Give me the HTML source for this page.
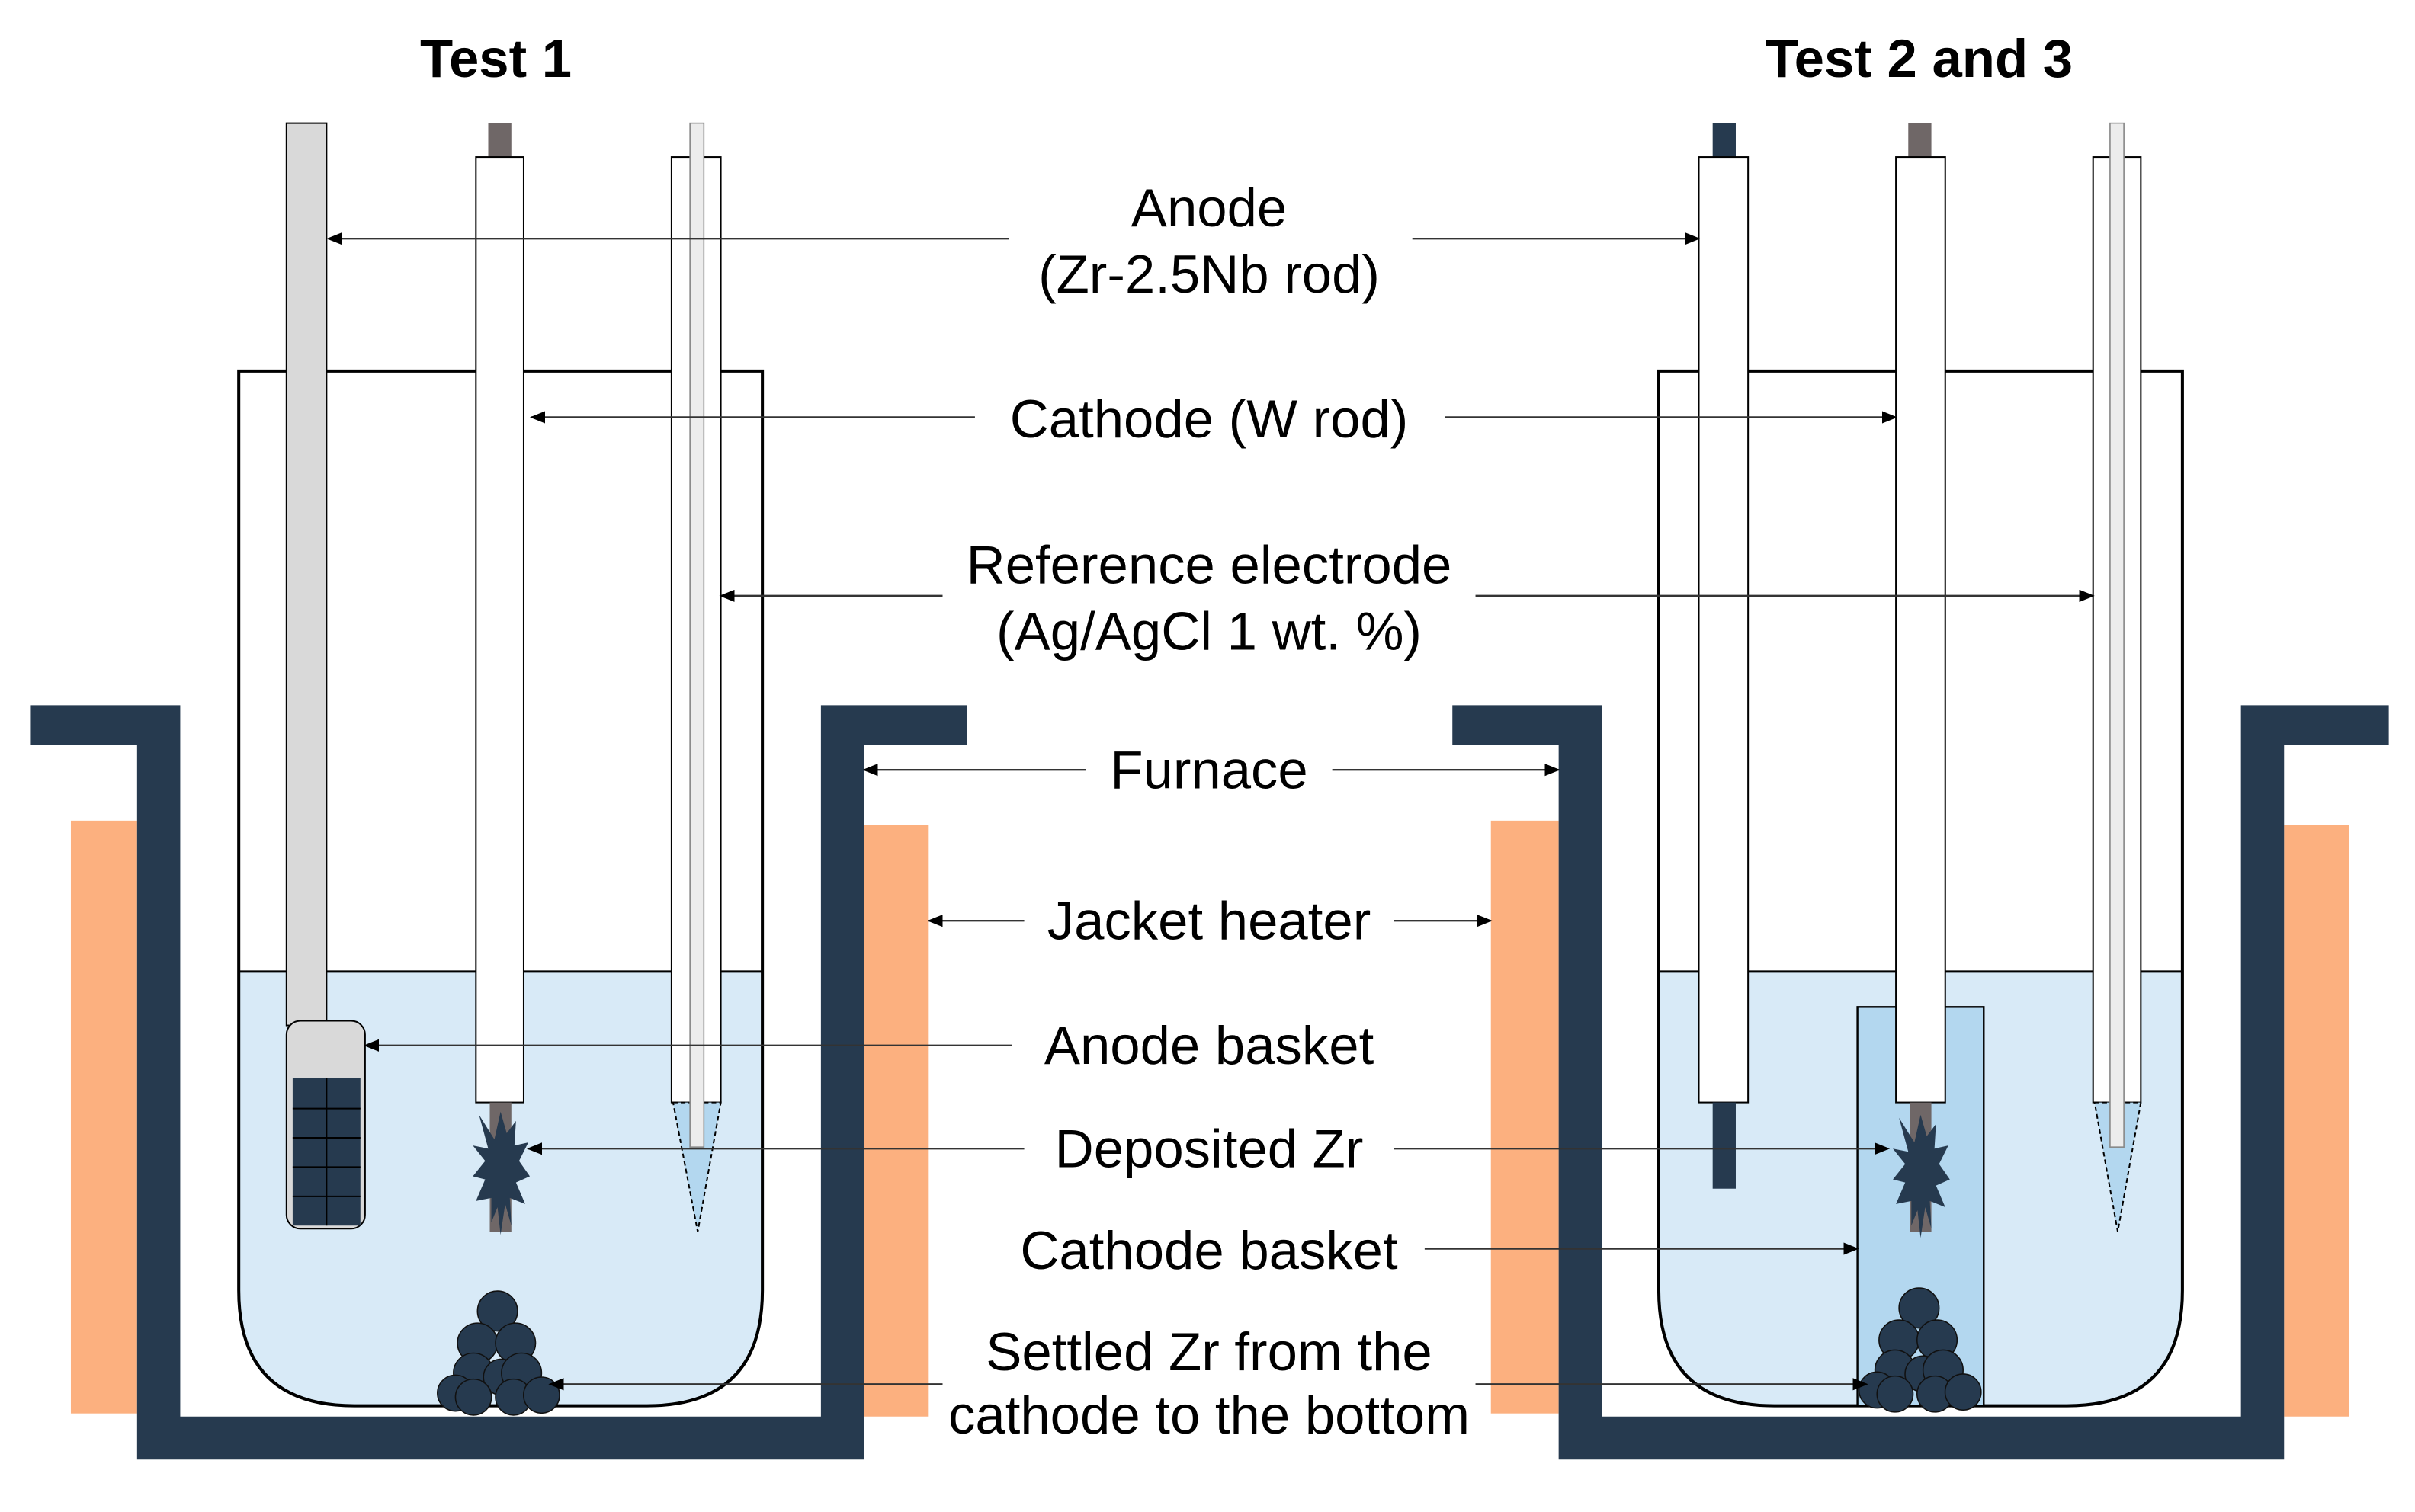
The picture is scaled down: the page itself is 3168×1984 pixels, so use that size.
<!DOCTYPE html>
<html><head><style>html,body{margin:0;padding:0;background:#fff}svg{display:block}</style></head><body>
<svg width="3168" height="1984" viewBox="0 0 1568 982" xmlns="http://www.w3.org/2000/svg" font-family="'Liberation Sans', sans-serif">
<defs>
<marker id="a" markerWidth="10" markerHeight="8" refX="9" refY="4" orient="auto" markerUnits="userSpaceOnUse"><path d="M0,0 L10,4 L0,8 z" fill="#000"/></marker>
<g id="balls" fill="#263a4f" stroke="#111" stroke-width="0.6">
<g transform="scale(1.3)">
<circle cx="0" cy="-45" r="10"/><circle cx="-10" cy="-29" r="10"/><circle cx="9" cy="-29" r="10"/>
<circle cx="-12" cy="-14" r="10"/><circle cx="2" cy="-12" r="9"/><circle cx="12" cy="-14" r="10"/>
<circle cx="-21" cy="-4" r="9"/><circle cx="-12" cy="-2" r="9"/><circle cx="8" cy="-2" r="9"/><circle cx="22" cy="-3" r="9"/>
</g></g>
<polygon id="star" fill="#263a4f" points="0,-36 4,-22 10,-30 9,-14 18,-16 12,-4 19,6 10,10 16,24 6,20 7,38 3,24 0,44 -2,26 -6,36 -6,20 -16,22 -10,8 -18,6 -10,-4 -18,-14 -8,-12 -14,-34 -4,-18"/>
</defs>
<g fill="#fcb07f">
<rect x="46" y="533" width="43" height="385"/><rect x="561" y="536" width="42" height="384"/>
<rect x="968" y="533" width="44" height="385"/><rect x="1483" y="536" width="42" height="384"/>
</g>
<g fill="#263a4f">
<path d="M20,458 H117 V920 H533 V458 H628 V484 H561 V948 H89 V484 H20 Z"/>
<path d="M943,458 H1040 V920 H1455 V458 H1551 V484 H1483 V948 H1012 V484 H943 Z"/>
</g>
<g stroke="#000" stroke-width="2">
<path d="M155,631 H495 V838 Q495,913 420,913 H230 Q155,913 155,838 Z" fill="#d8eaf7" stroke="none"/>
<path d="M155,241 H495 V838 Q495,913 420,913 H230 Q155,913 155,838 Z" fill="none"/>
<line x1="155" y1="631" x2="495" y2="631" stroke-width="1.5"/>
<path d="M1077,631 H1417 V838 Q1417,913 1342,913 H1152 Q1077,913 1077,838 Z" fill="#d8eaf7" stroke="none"/>
<path d="M1077,241 H1417 V838 Q1417,913 1342,913 H1152 Q1077,913 1077,838 Z" fill="none"/>
<line x1="1077" y1="631" x2="1417" y2="631" stroke-width="1.5"/>
</g>
<rect x="1206" y="654" width="82" height="259" fill="#b3d7ef" stroke="#000" stroke-width="1.2"/>
<rect x="186" y="80" width="26" height="586" fill="#d9d9d9" stroke="#000" stroke-width="1"/>
<rect x="186" y="663" width="51" height="135" rx="9" fill="#d9d9d9" stroke="#000" stroke-width="1"/>
<rect x="190" y="700" width="44" height="96" fill="#263a4f"/>
<g stroke="#000" stroke-width="1"><line x1="212" y1="700" x2="212" y2="796"/><line x1="190" y1="720" x2="234" y2="720"/><line x1="190" y1="739" x2="234" y2="739"/><line x1="190" y1="758" x2="234" y2="758"/><line x1="190" y1="777" x2="234" y2="777"/></g>
<rect x="317" y="80" width="15" height="22" fill="#6f6767"/>
<rect x="309" y="102" width="31" height="614" fill="#fff" stroke="#000" stroke-width="1"/>
<rect x="318" y="716" width="14" height="84" fill="#6f6767"/>
<use href="#star" x="325" y="758"/>
<rect x="436" y="102" width="32" height="614" fill="#fff" stroke="#000" stroke-width="1"/>
<polygon points="437,716 468,716 453,800" fill="#b3d7ef" stroke="#000" stroke-width="1" stroke-dasharray="3,2"/>
<rect x="448" y="80" width="9" height="665" fill="#ececec" stroke="#888" stroke-width="0.8"/>
<use href="#balls" x="323" y="910"/>
<rect x="1112" y="80" width="15" height="22" fill="#263a4f"/>
<rect x="1103" y="102" width="32" height="614" fill="#fff" stroke="#000" stroke-width="1"/>
<rect x="1112" y="716" width="15" height="56" fill="#263a4f"/>
<rect x="1239" y="80" width="15" height="22" fill="#6f6767"/>
<rect x="1231" y="102" width="32" height="614" fill="#fff" stroke="#000" stroke-width="1"/>
<rect x="1240" y="716" width="14" height="84" fill="#6f6767"/>
<use href="#star" x="1247" y="760"/>
<use href="#balls" x="1246" y="908"/>
<rect x="1359" y="102" width="31" height="614" fill="#fff" stroke="#000" stroke-width="1"/>
<polygon points="1360,716 1390,716 1375,800" fill="#b3d7ef" stroke="#000" stroke-width="1" stroke-dasharray="3,2"/>
<rect x="1370" y="80" width="9" height="665" fill="#ececec" stroke="#888" stroke-width="0.8"/>
<g stroke="#333" stroke-width="1.2" marker-end="url(#a)">
<line x1="655" y1="155" x2="213" y2="155"/><line x1="917" y1="155" x2="1103" y2="155"/>
<line x1="633" y1="271" x2="345" y2="271"/><line x1="938" y1="271" x2="1231" y2="271"/>
<line x1="612" y1="387" x2="468" y2="387"/><line x1="958" y1="387" x2="1359" y2="387"/>
<line x1="705" y1="500" x2="561" y2="500"/><line x1="865" y1="500" x2="1012" y2="500"/>
<line x1="665" y1="598" x2="603" y2="598"/><line x1="905" y1="598" x2="968" y2="598"/>
<line x1="657" y1="679" x2="237" y2="679"/>
<line x1="665" y1="746" x2="343" y2="746"/><line x1="905" y1="746" x2="1226" y2="746"/>
<line x1="925" y1="811" x2="1206" y2="811"/>
<line x1="612" y1="899" x2="357" y2="899"/><line x1="958" y1="899" x2="1212" y2="899"/>
</g>
<g font-size="35" text-anchor="middle" fill="#000">
<text x="322" y="50" font-weight="bold">Test 1</text>
<text x="1246" y="50" font-weight="bold">Test 2 and 3</text>
<text x="785" y="147">Anode</text>
<text x="785" y="190">(Zr-2.5Nb rod)</text>
<text x="785" y="284">Cathode (W rod)</text>
<text x="785" y="379">Reference electrode</text>
<text x="785" y="422">(Ag/AgCl 1 wt. %)</text>
<text x="785" y="512">Furnace</text>
<text x="785" y="610">Jacket heater</text>
<text x="785" y="691">Anode basket</text>
<text x="785" y="758">Deposited Zr</text>
<text x="785" y="824">Cathode basket</text>
<text x="785" y="890">Settled Zr from the</text>
<text x="785" y="931">cathode to the bottom</text>
</g>
</svg>
</body></html>
